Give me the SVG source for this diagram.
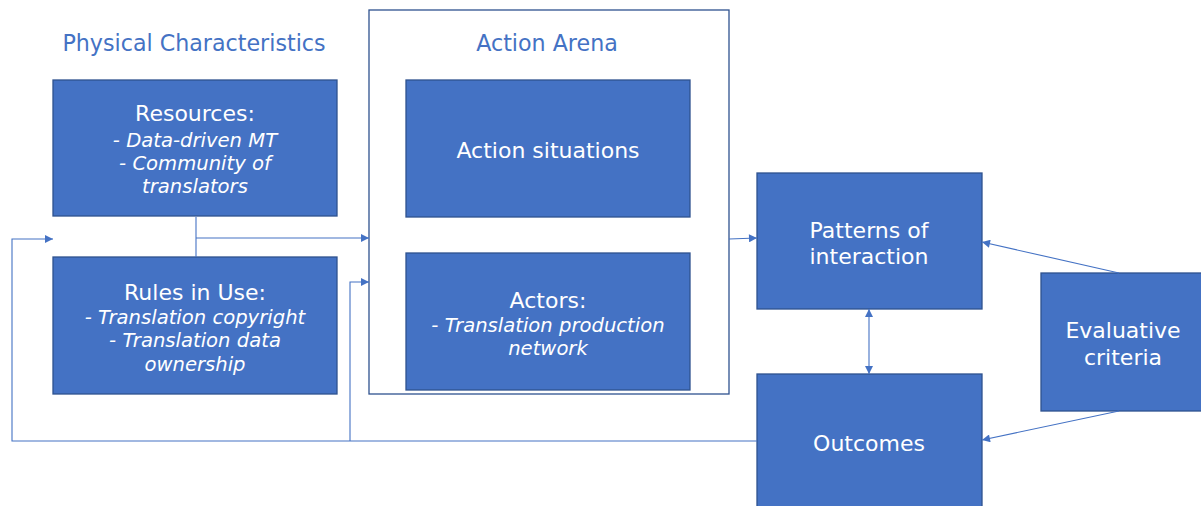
<svg xmlns="http://www.w3.org/2000/svg" width="1201" height="506" viewBox="0 0 1201 506">
  <defs>
    <style>
      .box { fill: #4472C4; stroke: #2F528F; stroke-width: 1.3; }
      .frame { fill: #FFFFFF; stroke: #2F528F; stroke-width: 1.3; }
      .lbl { font-family: "DejaVu Sans", Verdana, sans-serif; fill: #FFFFFF; text-anchor: middle; }
      .big { font-size: 22px; }
      .sub { font-size: 19.6px; font-style: italic; }
      .title { font-family: "DejaVu Sans", Verdana, sans-serif; font-size: 22.2px; fill: #4472C4; text-anchor: middle; }
      .wire { fill: none; stroke: #4472C4; stroke-width: 1.1; }
    </style>
    <marker id="arrow" viewBox="0 0 10 10" refX="10" refY="5" markerWidth="9" markerHeight="8" orient="auto-start-reverse" markerUnits="userSpaceOnUse">
      <path d="M0,0 L10,5 L0,10 Z" fill="#4472C4"/>
    </marker>
  </defs>

  <rect width="1201" height="506" fill="#FFFFFF"/>

  <!-- Group headings -->
  <text class="title" x="194" y="51">Physical Characteristics</text>

  <!-- Action arena container -->
  <g id="action-arena">
    <rect class="frame" x="369" y="10" width="360" height="384"/>
    <text class="title" x="547" y="51">Action Arena</text>
  </g>

  <g id="resources">
    <rect class="box" x="53" y="80" width="284" height="136"/>
    <text class="lbl big" x="195" y="121">Resources:</text>
    <text class="lbl sub" x="195" y="147">- Data-driven MT</text>
    <text class="lbl sub" x="195" y="170">- Community of</text>
    <text class="lbl sub" x="195" y="193">translators</text>
  </g>

  <g id="rules-in-use">
    <rect class="box" x="53" y="257" width="284" height="137"/>
    <text class="lbl big" x="195" y="300">Rules in Use:</text>
    <text class="lbl sub" x="195" y="324">- Translation copyright</text>
    <text class="lbl sub" x="195" y="347">- Translation data</text>
    <text class="lbl sub" x="195" y="371">ownership</text>
  </g>

  <g id="action-situations">
    <rect class="box" x="406" y="80" width="284" height="137"/>
    <text class="lbl big" x="548" y="158">Action situations</text>
  </g>

  <g id="actors">
    <rect class="box" x="406" y="253" width="284" height="137"/>
    <text class="lbl big" x="548" y="308">Actors:</text>
    <text class="lbl sub" x="548" y="332">- Translation production</text>
    <text class="lbl sub" x="548" y="355">network</text>
  </g>

  <g id="patterns-of-interaction">
    <rect class="box" x="757" y="173" width="225" height="136"/>
    <text class="lbl big" x="869" y="238">Patterns of</text>
    <text class="lbl big" x="869" y="264">interaction</text>
  </g>

  <g id="outcomes">
    <rect class="box" x="757" y="374" width="225" height="140"/>
    <text class="lbl big" x="869" y="451">Outcomes</text>
  </g>

  <g id="evaluative-criteria">
    <rect class="box" x="1041" y="273" width="165" height="138"/>
    <text class="lbl big" x="1123" y="338">Evaluative</text>
    <text class="lbl big" x="1123" y="365">criteria</text>
  </g>

  <g id="connectors">
    <!-- exogenous variables into the action arena -->
    <path class="wire" d="M196,217 V257"/>
    <path class="wire" d="M196,238 H369" marker-end="url(#arrow)"/>
    <!-- arena to patterns -->
    <path class="wire" d="M729,239 L757,238" marker-end="url(#arrow)"/>
    <!-- patterns <-> outcomes -->
    <path class="wire" d="M869,309 V374" marker-start="url(#arrow)" marker-end="url(#arrow)"/>
    <!-- evaluative criteria -->
    <path class="wire" d="M1119,273 L982,242" marker-end="url(#arrow)"/>
    <path class="wire" d="M1119,411 L982,440" marker-end="url(#arrow)"/>
    <!-- feedback from outcomes -->
    <path class="wire" d="M757,441 H12 V239 H53" marker-end="url(#arrow)"/>
    <path class="wire" d="M350,441 V282 H369" marker-end="url(#arrow)"/>
  </g>
</svg>
